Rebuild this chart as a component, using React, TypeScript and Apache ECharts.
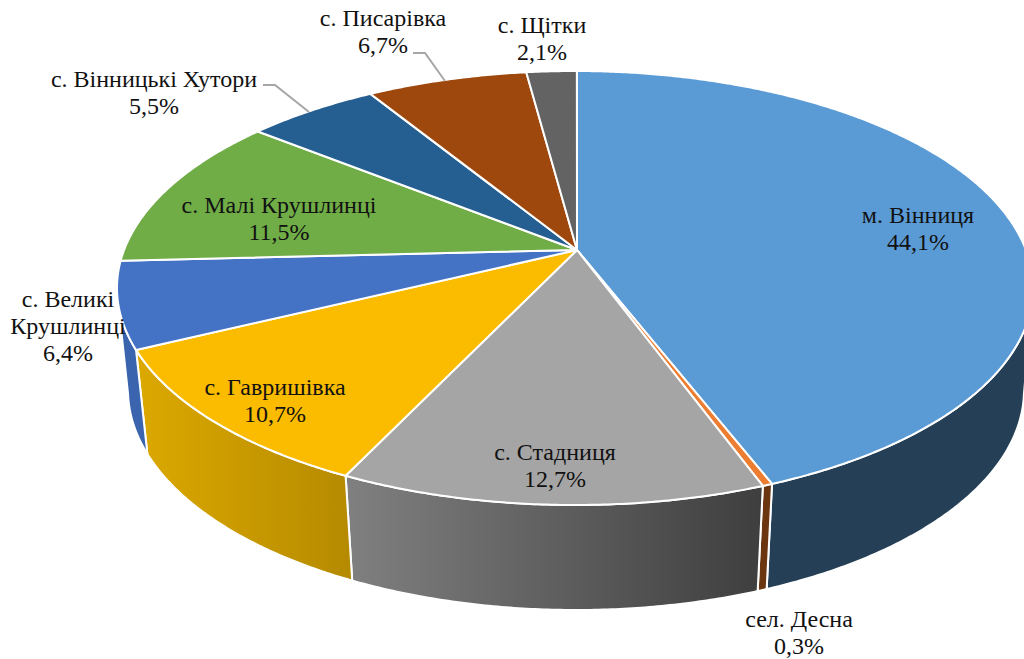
import React, { useEffect, useRef } from "react";
import * as echarts from "echarts";

const names = [
  "м. Вінниця",
  "сел. Десна",
  "с. Стадниця",
  "с. Гавришівка",
  "с. Великі\nКрушлинці",
  "с. Малі Крушлинці",
  "с. Вінницькі Хутори",
  "с. Писарівка",
  "с. Щітки",
];
const values = [44.1, 0.3, 12.7, 10.7, 6.4, 11.5, 5.5, 6.7, 2.1];
const topColors = ["#5B9BD5", "#ED7D31", "#A5A5A5", "#FBBC00", "#4472C4", "#70AD47", "#255E91", "#9E480E", "#636363"];
const wallFrom = ["#243F56", "#6B3510", "#808080", "#DCA900", "#3A64AE", "#4E7A32", "#1A4266", "#6F330A", "#464646"];
const wallTo = ["#243F56", "#6B3510", "#3E3E3E", "#B58A00", "#3A64AE", "#4E7A32", "#1A4266", "#6F330A", "#464646"];
const labelCenters = [
  [918, 228], [799, 632], [555, 465], [275, 400], [68, 326],
  [279, 218], [154, 92], [383, 31], [542, 38],
];
const leaderLines = [
  [[263, 85], [275, 85], [309, 112]],
  [[413, 53], [425, 53], [445, 81]],
];

type Disc = { cx: number; cy: number; rx: number; ry: number; ax: number; ay: number };
const topDisc: Disc = { cx: 575, cy: 288, rx: 458, ry: 217, ax: 577, ay: 250 };
const bottomDisc: Disc = { cx: 576, cy: 390, rx: 448, ry: 220, ax: 577, ay: 353 };
// Only this part of the turn faces the viewer; its ends are the silhouette's tangent points.
const frontRange = [0.28, 0.72];

const total = values.reduce((a, b) => a + b, 0);
const startFractions = values.map((_, i) => values.slice(0, i).reduce((a, b) => a + b, 0) / total);

// Circle-to-ellipse perspective: boost the unit disc so its centre lands on the apex.
function project(d: Disc, angle: number): number[] {
  const ux = Math.sin(angle);
  const uy = -Math.cos(angle);
  const vx = (d.ax - d.cx) / d.rx;
  const vy = (d.ay - d.cy) / d.ry;
  const v2 = vx * vx + vy * vy;
  const g = 1 / Math.sqrt(1 - v2);
  const dot = vx * ux + vy * uy;
  const k = 1 / (1 + dot);
  const px = k * (vx + ux / g + (g / (1 + g)) * dot * vx);
  const py = k * (vy + uy / g + (g / (1 + g)) * dot * vy);
  return [d.cx + px * d.rx, d.cy + py * d.ry];
}

function arc(d: Disc, from: number, to: number): number[][] {
  const a0 = from * Math.PI * 2;
  const a1 = to * Math.PI * 2;
  const n = Math.max(2, Math.ceil((a1 - a0) / 0.008));
  const pts: number[][] = [];
  for (let i = 0; i <= n; i++) pts.push(project(d, a0 + ((a1 - a0) * i) / n));
  return pts;
}

function sliceRange(i: number): number[] {
  return [startFractions[i], startFractions[i] + values[i] / total];
}

function renderWall(params: any) {
  const i = params.dataIndex;
  const [s, e] = sliceRange(i);
  const a = Math.max(s, frontRange[0]);
  const b = Math.min(e, frontRange[1]);
  if (a >= b) return null;
  const points = [...arc(topDisc, a, b), ...arc(bottomDisc, a, b).reverse()];
  return {
    type: "polygon",
    shape: { points },
    style: {
      fill: new echarts.graphic.LinearGradient(0, 0, 1, 0, [
        { offset: 0, color: wallFrom[i] },
        { offset: 1, color: wallTo[i] },
      ]),
      stroke: "#fff",
      lineWidth: 2,
      lineJoin: "round",
    },
  };
}

function renderTop(params: any) {
  const i = params.dataIndex;
  const [a, b] = sliceRange(i);
  const points = [[topDisc.ax, topDisc.ay], ...arc(topDisc, a, b)];
  return {
    type: "polygon",
    shape: { points },
    style: { fill: topColors[i], stroke: "#fff", lineWidth: 2, lineJoin: "round" },
  };
}

const percent = (v: number) => v.toFixed(1).replace(".", ",") + "%";

export default function App() {
  const ref = useRef<HTMLDivElement>(null);
  useEffect(() => {
    document.body.style.margin = "0";
    const chart = echarts.init(ref.current!, null, { renderer: "svg" });
    chart.setOption({
      animation: false,
      backgroundColor: "#fff",
      series: [
        { type: "custom", coordinateSystem: "none", silent: true, z: 1, data: values, renderItem: renderWall },
        { type: "custom", coordinateSystem: "none", silent: true, z: 2, data: values, renderItem: renderTop },
      ],
      graphic: [
        ...leaderLines.map((points) => ({
          type: "polyline",
          z: 5,
          silent: true,
          shape: { points },
          style: { stroke: "#A6A6A6", lineWidth: 2, fill: "none" },
        })),
        ...names.map((name, i) => ({
          type: "text",
          z: 6,
          silent: true,
          x: labelCenters[i][0],
          y: labelCenters[i][1],
          style: {
            text: name + "\n" + percent(values[i]),
            font: '24px "Liberation Serif"',
            fill: "#111",
            align: "center",
            verticalAlign: "middle",
            lineHeight: 27,
          },
        })),
      ],
    });
    return () => chart.dispose();
  }, []);
  return <div ref={ref} style={{ position: "absolute", left: 0, top: 0, width: 1024, height: 659, overflow: "hidden" }} />;
}
